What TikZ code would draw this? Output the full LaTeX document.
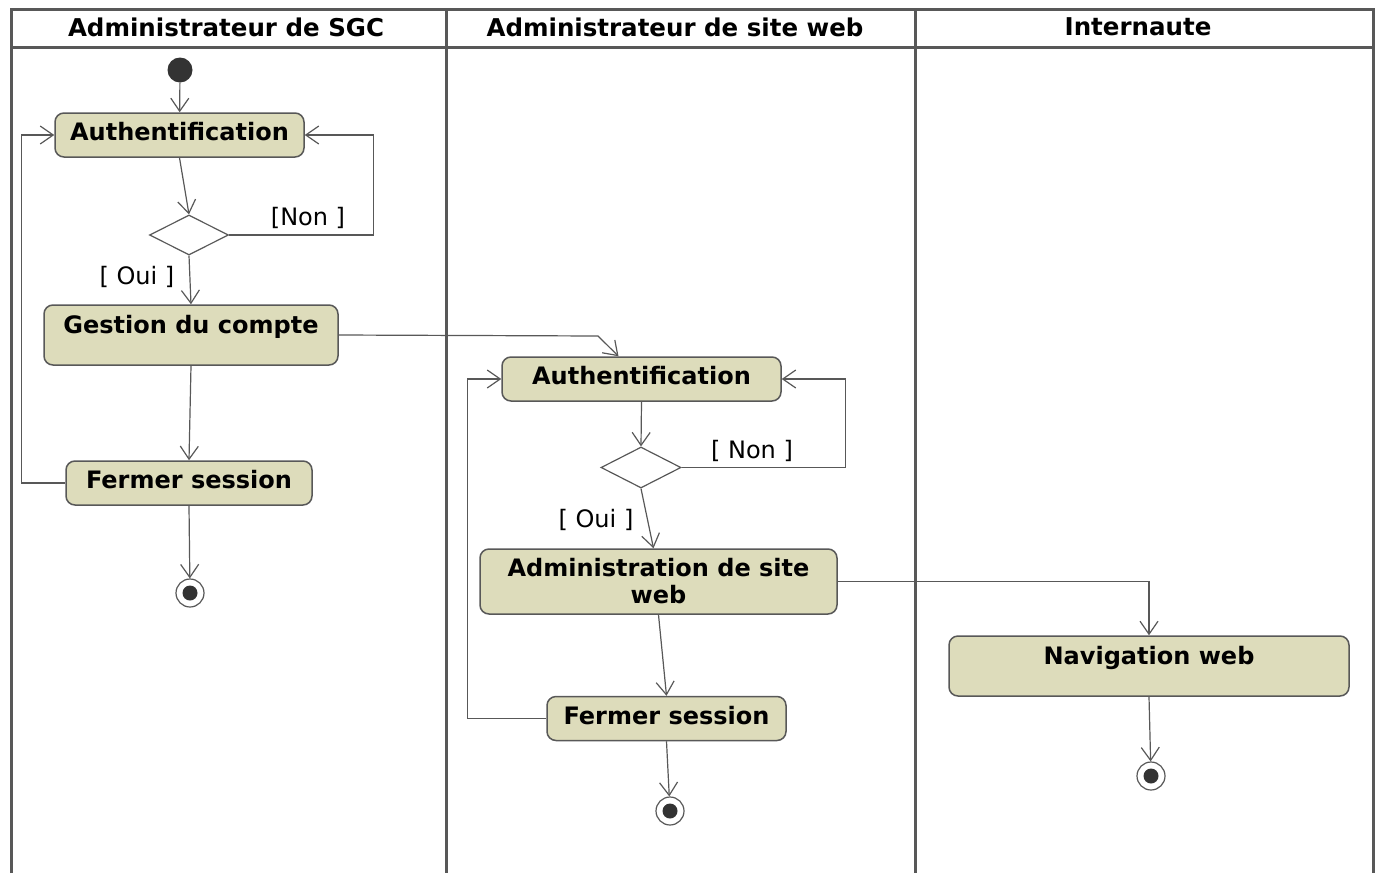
\documentclass[tikz,border=0pt]{standalone}
\usepackage{fontspec}
\setmainfont{DejaVu Sans}
\usetikzlibrary{arrows.meta,shapes.geometric}
\definecolor{fondact}{RGB}{221,220,187}
\definecolor{traitgris}{RGB}{88,88,88}
\tikzset{
  activite/.style={draw=traitgris, line width=1.5pt, fill=fondact, rounded corners=9pt,
    inner sep=0pt, font=\fontsize{24}{27}\selectfont\bfseries,
    text height=27.5pt, text depth=16.5pt, align=center},
  flux/.style={draw=traitgris, line width=1.2pt, -{Straight Barb[length=13pt,width=18pt]}},
  choix/.style={diamond, draw=traitgris, line width=1.2pt, fill=white,
    minimum width=79pt, minimum height=40pt, inner sep=0pt},
  garde/.style={font=\fontsize{24}{27}\selectfont},
  depart/.style={circle, fill=black!80, minimum size=25pt, inner sep=0pt},
  fin/.style={circle, draw=traitgris, line width=1.2pt, fill=white, minimum size=28pt, inner sep=0pt,
    path picture={\fill[black!80] (path picture bounding box.center) circle (7.5pt);}},
  couloir/.style={draw=traitgris, line width=3pt},
  titre/.style={font=\fontsize{24.5}{27}\selectfont\bfseries}
}
\begin{document}
\begin{tikzpicture}[x=1pt, y=-1pt]
  \useasboundingbox (0,0) rectangle (1379,873);

  % couloirs
  \draw[couloir] (11,873) -- (11,9) -- (1373,9) -- (1373,873);
  \draw[couloir] (11,47) -- (1373,47);
  \draw[couloir] (446,9) -- (446,873);
  \draw[couloir] (915,9) -- (915,873);
  \node[titre] (sgc) at (226,27) {Administrateur de SGC};
  \node[titre] (siteweb) at (675,27) {Administrateur de site web};
  \node[titre] (internaute) at (1138,27) {Internaute};

  % administrateur de SGC
  \node[depart] (init) at (180,70) {};
  \node[activite, minimum width=249pt] (auth1) at (179.5,135) {Authentification};
  \node[choix] (dec1) at (189,235) {};
  \node[activite, minimum width=294pt, text height=28pt, text depth=32pt] (gestion) at (191,335) {Gestion du compte};
  \node[activite, minimum width=246pt] (fermer1) at (189,483) {Fermer session};
  \node[fin] (final1) at (190,593) {};
  \node[garde] (non1) at (308,218) {[Non ]};
  \node[garde] (oui1) at (137,277) {[ Oui ]};

  \draw[flux] (init) -- (auth1);
  \draw[flux] (auth1.south) -- (dec1.north);
  \draw[flux] (dec1.east) -- ++(144,0) |- (auth1.east);
  \draw[flux] (dec1.south) -- (gestion.north);
  \draw[flux] (gestion.south) -- (fermer1.north);
  \draw[flux] (fermer1.south) -- (final1);
  \draw[flux] (fermer1.west) -- ++(-44,0) |- (auth1.west);

  % administrateur de site web
  \node[activite, minimum width=279pt] (auth2) at (641.5,379) {Authentification};
  \node[choix, minimum width=80pt, minimum height=41pt] (dec2) at (641,467.5) {};
  \node[activite, minimum width=357pt, minimum height=65pt, text height={}, text depth={}] (admin) at (658.5,581.5) {Administration de site\\web};
  \node[activite, minimum width=239pt] (fermer2) at (666.5,718.5) {Fermer session};
  \node[fin] (final2) at (670,811) {};
  \node[garde] (non2) at (752,451) {[ Non ]};
  \node[garde] (oui2) at (596,520) {[ Oui ]};
  \coordinate (coude1) at (598,336);

  \draw[flux] (gestion.east) -- (coude1) -- ([xshift=-23pt]auth2.north);
  \draw[flux] (auth2.south) -- (dec2.north);
  \draw[flux] (dec2.east) -- ++(164,0) |- (auth2.east);
  \draw[flux] (dec2.south) -- ([xshift=-5pt]admin.north);
  \draw[flux] (admin.south) -- (fermer2.north);
  \draw[flux] (fermer2.south) -- (final2);
  \draw[flux] (fermer2.west) -- ++(-79,0) |- (auth2.west);

  % internaute
  \node[activite, minimum width=400pt, text height=28pt, text depth=32pt] (nav) at (1149,666) {Navigation web};
  \node[fin] (final3) at (1151,776) {};

  \draw[flux] (admin.east) -| (nav.north);
  \draw[flux] (nav.south) -- (final3);
\end{tikzpicture}
\end{document}
